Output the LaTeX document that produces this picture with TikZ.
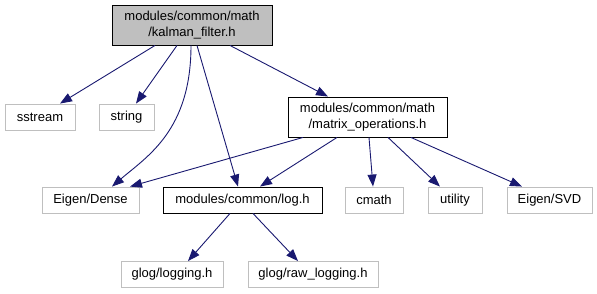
\documentclass[tikz,border=0pt]{standalone}
\usepackage{fontspec}
\setmainfont{Liberation Sans}
\usepackage{tikz}
\usepackage{xcolor}
\usetikzlibrary{arrows.meta, positioning}
\definecolor{edgeblue}{HTML}{191970}
\definecolor{boxgray}{HTML}{BFBFBF}
\tikzset{
    filebox/.style={
        rectangle,
        draw=black,
        line width=0.9pt,
        fill=white,
        minimum height=26pt,
        inner sep=0pt,
        align=center,
        font=\fontsize{13}{16}\selectfont % header dalam proyek
    },
    extbox/.style={
        filebox,
        draw=boxgray % header eksternal
    },
    rootfile/.style={
        filebox,
        fill=boxgray
    },
    incl/.style={-{Triangle[length=12pt, width=9pt]}, draw=edgeblue, line width=0.9pt}
}

\begin{document}
\begin{tikzpicture}[x=1pt, y=-1pt]

    \useasboundingbox (0,0) rectangle (597,293);

    \node[rootfile, minimum width=160pt, minimum height=40pt] (kalman) at (192,25) {modules/common/math\\/kalman\_filter.h};

    \node[extbox, minimum width=70pt] (sstream) at (40,117) {sstream};
    \node[extbox, minimum width=55pt] (string) at (126.5,117) {string};
    \node[filebox, minimum width=159pt, minimum height=40pt] (matrixops) at (367.5,117) {modules/common/math\\/matrix\_operations.h};

    \node[extbox, minimum width=97pt] (dense) at (90.5,200) {Eigen/Dense};
    \node[filebox, minimum width=159pt] (log) at (242.5,200) {modules/common/log.h};
    \node[extbox, minimum width=58pt] (cmath) at (374,200) {cmath};
    \node[extbox, minimum width=54pt] (utility) at (455,200) {utility};
    \node[extbox, minimum width=85pt] (svd) at (549.5,200) {Eigen/SVD};

    \node[extbox, minimum width=102pt] (glog) at (172,274.5) {glog/logging.h};
    \node[extbox, minimum width=130pt] (rawlog) at (313,274.5) {glog/raw\_logging.h};

    \draw[incl] ([xshift=-37pt]kalman.south) -- ([xshift=20pt]sstream.north);
    \draw[incl] ([xshift=-15pt]kalman.south) -- ([xshift=9.5pt]string.north);
    \draw[incl] ([xshift=-1pt]kalman.south) .. controls +(0,85) and +(35,-30) .. ([xshift=21.5pt]dense.north);
    \draw[incl] ([xshift=5pt]kalman.south) -- ([xshift=-4.5pt]log.north);
    \draw[incl] ([xshift=38pt]kalman.south) -- ([xshift=-39.5pt]matrixops.north);

    \draw[incl] ([xshift=-64.5pt]matrixops.south) -- ([xshift=39.5pt]dense.north);
    \draw[incl] ([xshift=-30.5pt]matrixops.south) -- ([xshift=17.5pt]log.north);
    \draw[incl] ([xshift=1.5pt]matrixops.south) -- ([xshift=-1pt]cmath.north);
    \draw[incl] ([xshift=20.5pt]matrixops.south) -- ([xshift=-15pt]utility.north);
    \draw[incl] ([xshift=43.5pt]matrixops.south) -- ([xshift=-27.5pt]svd.north);

    \draw[incl] ([xshift=-12.5pt]log.south) -- ([xshift=16pt]glog.north);
    \draw[incl] ([xshift=10.5pt]log.south) -- ([xshift=-15pt]rawlog.north);

\end{tikzpicture}
\end{document}
